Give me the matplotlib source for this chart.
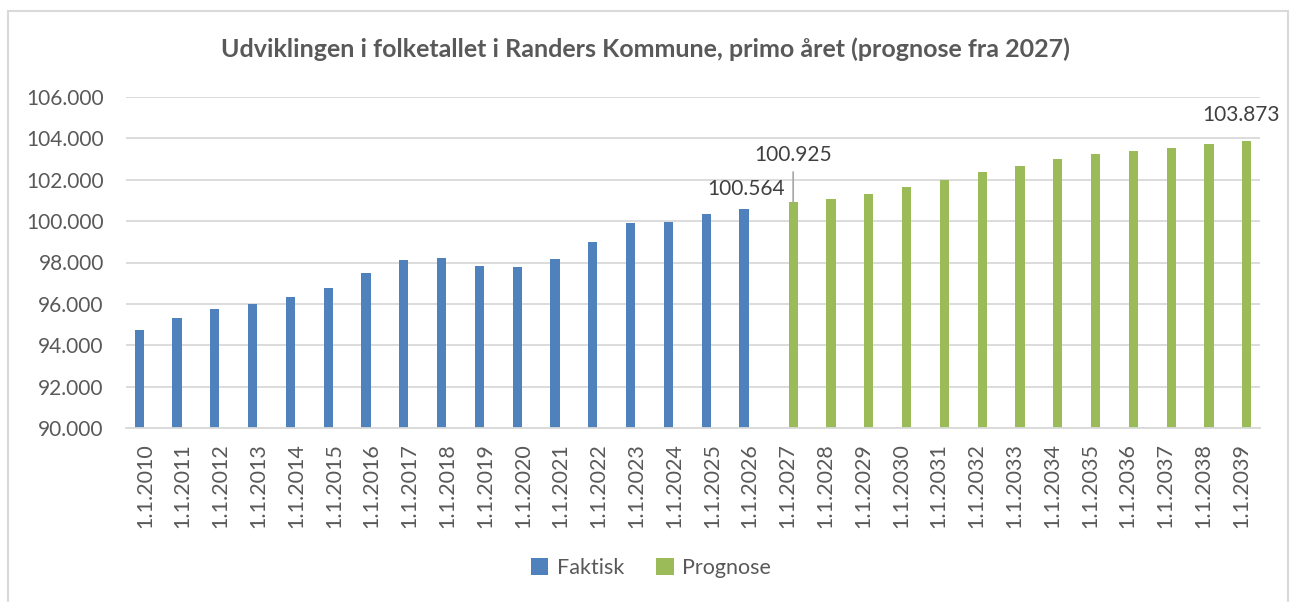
#!/usr/bin/env python3
"""
Befolkningsudvikling i Randers Kommune, faktisk og prognose.
Gemmer: out.png
"""
import numpy as np
import matplotlib.pyplot as plt
from matplotlib.patches import Rectangle
from matplotlib.ticker import FuncFormatter

plt.rcParams['font.family'] = ['Lato', 'DejaVu Sans']

years = list(range(2010, 2040))
labels = [f'1.1.{y}' for y in years]

faktisk = [94760, 95310, 95740, 96000, 96310, 96790, 97480, 98100, 98230,
           97850, 97790, 98160, 98970, 99900, 99970, 100340, 100564]
prognose = [100925, 101080, 101320, 101630, 102000, 102390, 102680, 103000,
            103240, 103370, 103550, 103740, 103873]

BLUE, GREEN = '#4f81bd', '#9bbb59'
GRID = '#d9d9d9'
TXT = '#595959'

def dk(v, pos=None):
    return f'{v:,.0f}'.replace(',', '.')

fig = plt.figure(figsize=(12.91, 6.02), dpi=100)
ax = fig.add_axes([126/1291, 1 - 428/602, (1260 - 126)/1291, (428 - 97)/602])

x = np.arange(len(years))
nf = len(faktisk)
w, off = 0.24, 0.15
ax.bar(x[:nf] - off, faktisk, width=w, color=BLUE, label='Faktisk', zorder=3)
ax.bar(x[nf:] + off, prognose, width=w, color=GREEN, label='Prognose', zorder=3)

ax.set_xlim(-0.5, len(years) - 0.5)
ax.set_ylim(90000, 106000)
ax.set_yticks(np.arange(90000, 106001, 2000))
ax.yaxis.set_major_formatter(FuncFormatter(dk))
ax.set_xticks(x)
ax.set_xticklabels(labels, rotation=90)
ax.tick_params(axis='y', length=0, pad=16, labelsize=15, labelcolor=TXT)
ax.tick_params(axis='x', length=0, pad=11, labelsize=15.5, labelcolor=TXT)
ax.grid(axis='y', color=GRID, lw=1.3, zorder=0)
for s in ['top', 'right', 'left']:
    ax.spines[s].set_visible(False)
ax.spines['bottom'].set_color(GRID)
ax.spines['bottom'].set_linewidth(1.3)
ax.spines['bottom'].set_zorder(4)

# datalabels
lab = dict(textcoords='offset pixels', fontsize=15, color='#404040')
ax.annotate(dk(faktisk[-1]), xy=(x[nf - 1] - off, faktisk[-1]), xytext=(41, 20),
            ha='right', va='center', **lab)
ax.annotate(dk(prognose[0]), xy=(x[nf] + off, prognose[0]), xytext=(0, 47),
            ha='center', va='center',
            arrowprops=dict(arrowstyle='-', color='#a6a6a6', lw=1.2,
                            shrinkA=3, shrinkB=0), **lab)
ax.annotate(dk(prognose[-1]), xy=(x[-1] + off, prognose[-1]), xytext=(-6, 26),
            ha='center', va='center', **lab)

fig.text(0.5, 1 - 49/602, 'Udviklingen i folketallet i Randers Kommune, primo året (prognose fra 2027)',
         ha='center', va='center', fontsize=18, fontweight='bold', color=TXT)

fig.legend(loc='center', bbox_to_anchor=(651/1291, 1 - 568/602), ncol=2, frameon=False,
           fontsize=15.5, labelcolor=TXT, handlelength=0.8, handleheight=0.8,
           handletextpad=0.4, columnspacing=1.5)

fig.patches.append(Rectangle((8/1291, -0.02), (1288 - 8)/1291, 1 - 11/602 + 0.02,
                             transform=fig.transFigure, fill=False,
                             edgecolor=GRID, lw=1.5))

fig.savefig('out.png', dpi=100)
